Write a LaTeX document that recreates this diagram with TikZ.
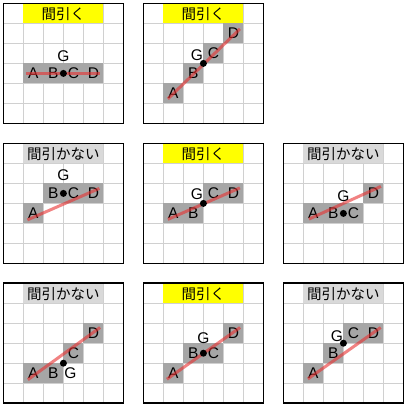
\documentclass[tikz,border=0pt]{standalone}
\usepackage{fontspec}
\setmainfont{Liberation Sans}
\newfontfamily\jpfont{Noto Sans CJK JP}
\definecolor{gridc}{HTML}{D0D0D0}
\definecolor{cellc}{HTML}{A6A6A6}
\definecolor{titley}{HTML}{FFFF00}
\definecolor{titleg}{HTML}{D9D9D9}
\definecolor{linec}{HTML}{E83030}
\tikzset{
  gridline/.style={draw=gridc, line width=1.1pt},
  frameline/.style={draw=black, line width=1.6pt},
  cellfill/.style={fill=cellc},
  letter/.style={inner sep=0pt, font=\fontsize{15.5}{16}\selectfont},
  titletext/.style={inner sep=0pt, font=\jpfont\fontsize{14.5}{15}\selectfont},
  gdot/.style={circle, fill=black, inner sep=0pt, minimum size=7pt},
  fitline/.style={draw=linec, opacity=0.6, line width=3pt},
}
% #1 prefix, #2 title fill colour, #3 title text
\newcommand\pframe[3]{%
  \foreach \i in {20,40,...,100} {\draw[gridline] (\i,0) -- (\i,120); \draw[gridline] (0,\i) -- (120,\i);}
  \fill[#2] (20,0) rectangle (100,20);
  \node[titletext] (#1title) at (60,10.5) {#3};
}
% #1 node name, #2 letter, #3 column, #4 row
\newcommand\pcell[4]{%
  \fill[cellfill] (#3*20,#4*20) rectangle ++(20,20);
  \node[letter] (#1) at (#3*20+10,#4*20+10) {#2};
}
% #1 prefix, dot (#2,#3), label (#4,#5)
\newcommand\pfinish[5]{%
  \draw[frameline] (0,0) rectangle (120,120);
  \draw[fitline] (#1s) -- (#1e);
  \node[gdot] (#1g) at (#2,#3) {};
  \node[letter] (#1gl) at (#4,#5) {G};
}
\begin{document}
\begin{tikzpicture}[x=1pt, y=-1pt]
\useasboundingbox (0,0) rectangle (409,410);
\fill[white] (0,0) rectangle (409,410);

% Panel 1
\begin{scope}[shift={(3.4,3.4)}]
  \pframe{pa}{titley}{間引く}
  \pcell{paA}{A}{1}{3}\pcell{paB}{B}{2}{3}\pcell{paC}{C}{3}{3}\pcell{paD}{D}{4}{3}
  \coordinate (pas) at (23,70); \coordinate (pae) at (97,70);
  \pfinish{pa}{60}{70}{60}{53}
\end{scope}

% Panel 2
\begin{scope}[shift={(143.4,3.4)}]
  \pframe{pb}{titley}{間引く}
  \pcell{pbA}{A}{1}{4}\pcell{pbB}{B}{2}{3}\pcell{pbC}{C}{3}{2}\pcell{pbD}{D}{4}{1}
  \coordinate (pbs) at (24.5,95.5); \coordinate (pbe) at (96.5,25.5);
  \pfinish{pb}{60}{60}{53.4}{51.7}
\end{scope}

% Panel 4
\begin{scope}[shift={(3.4,143.4)}]
  \pframe{pd}{titleg}{間引かない}
  \pcell{pdA}{A}{1}{3}\pcell{pdB}{B}{2}{2}\pcell{pdC}{C}{3}{2}\pcell{pdD}{D}{4}{2}
  \coordinate (pds) at (24,76.5); \coordinate (pde) at (96,45);
  \pfinish{pd}{60}{50}{60}{32}
\end{scope}

% Panel 5
\begin{scope}[shift={(143.4,143.4)}]
  \pframe{pe}{titley}{間引く}
  \pcell{peA}{A}{1}{3}\pcell{peB}{B}{2}{3}\pcell{peC}{C}{3}{2}\pcell{peD}{D}{4}{2}
  \coordinate (pes) at (24.5,76); \coordinate (pee) at (96.5,44.5);
  \pfinish{pe}{60}{60}{53.4}{51}
\end{scope}

% Panel 6
\begin{scope}[shift={(283.4,143.4)}]
  \pframe{pf}{titleg}{間引かない}
  \pcell{pfA}{A}{1}{3}\pcell{pfB}{B}{2}{3}\pcell{pfC}{C}{3}{3}\pcell{pfD}{D}{4}{2}
  \coordinate (pfs) at (25.5,75.7); \coordinate (pfe) at (97.5,43);
  \pfinish{pf}{60}{70}{60}{53}
\end{scope}

% Panel 7
\begin{scope}[shift={(3.4,283.2)}]
  \pframe{pg}{titleg}{間引かない}
  \pcell{pgA}{A}{1}{4}\pcell{pgB}{B}{2}{4}\pcell{pgC}{C}{3}{3}\pcell{pgD}{D}{4}{2}
  \coordinate (pgs) at (24.5,96.5); \coordinate (pge) at (96.7,44.3);
  \pfinish{pg}{60}{80}{67}{90}
\end{scope}

% Panel 8
\begin{scope}[shift={(143.4,283.2)}]
  \pframe{ph}{titley}{間引く}
  \pcell{phA}{A}{1}{4}\pcell{phB}{B}{2}{3}\pcell{phC}{C}{3}{3}\pcell{phD}{D}{4}{2}
  \coordinate (phs) at (23.5,96); \coordinate (phe) at (96.7,44.3);
  \pfinish{ph}{60}{70}{60}{55}
\end{scope}

% Panel 9
\begin{scope}[shift={(283.4,283.2)}]
  \pframe{pi}{titleg}{間引かない}
  \pcell{piA}{A}{1}{4}\pcell{piB}{B}{2}{3}\pcell{piC}{C}{3}{2}\pcell{piD}{D}{4}{2}
  \coordinate (pis) at (24.5,95.7); \coordinate (pie) at (97.3,44.3);
  \pfinish{pi}{60}{60}{53.4}{53.3}
\end{scope}
\end{tikzpicture}
\end{document}
